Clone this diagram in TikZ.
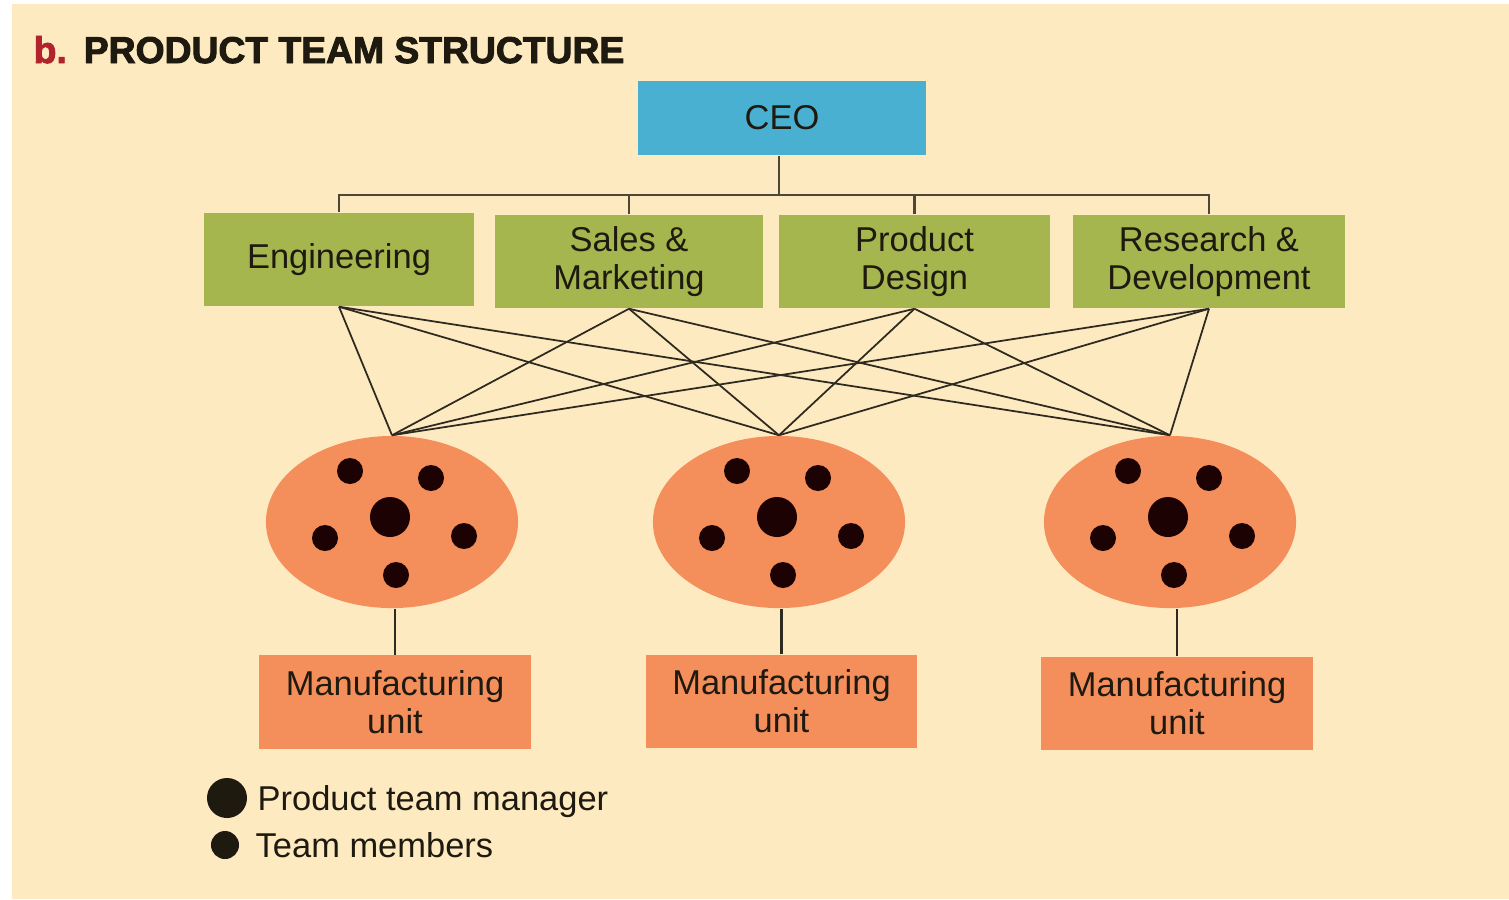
\documentclass[tikz,border=0pt]{standalone}
\usepackage{fontspec}
\setmainfont{Liberation Sans}
\newfontfamily\headfont{Liberation Sans}[BoldFeatures={FakeBold=2.5}]
\usetikzlibrary{shapes.geometric}
\definecolor{cream}{HTML}{FEEAC1}
\definecolor{sky}{HTML}{4AB0D1}
\definecolor{leaf}{HTML}{A6B64F}
\definecolor{salmon}{HTML}{F48F5C}
\definecolor{ink}{HTML}{1E1A10}
\definecolor{plum}{HTML}{1C0202}
\definecolor{brick}{HTML}{B2232E}
\definecolor{cord}{HTML}{2E2A20}
\newcommand{\crew}[3]{\node[team] (#1) at (#2,#3) {};\fill[plum] (#2-2,#3-5) circle (0.2cm);
\foreach \dx/\dy in {-42/-51,39/-44,-67/16,72/14,4/53} \fill[plum] (#2+\dx,#3+\dy) circle (0.13cm);}

\begin{document}
\begin{tikzpicture}[x=0.01cm,y=-0.01cm,
box/.style={rectangle,inner sep=0pt,align=center,text=ink,font=\fontsize{9.8}{10.8}\selectfont},
dept/.style={box,fill=leaf,minimum width=2.70cm,minimum height=0.93cm},
unit/.style={box,fill=salmon,minimum width=2.72cm,minimum height=0.93cm},
team/.style={ellipse,fill=salmon,minimum width=2.52cm,minimum height=1.72cm,inner sep=0pt},
tree/.style={draw=cord!85!cream,line width=0.6pt},
link/.style={draw=cord,line width=0.5pt}]
\useasboundingbox (0,0) rectangle (1509,899);\fill[cream] (12,4) rectangle (1509,899);
\node[anchor=base west,inner sep=0pt,text=ink,font=\headfont\bfseries\fontsize{10.6}{12}\selectfont] (title) at (33,63) {\textcolor{brick}{b.}\hspace{0.17cm}PRODUCT TEAM STRUCTURE};
\node[box,fill=sky,minimum width=2.88cm,minimum height=0.74cm] (ceo) at (782,118) {CEO};
\node[dept] (eng) at (339,259.5) {Engineering};
\node[dept,minimum width=2.68cm] (sales) at (629,261.5) {Sales \&\\Marketing};
\node[dept,minimum width=2.71cm] (design) at (914.5,261.5) {Product\\Design};
\node[dept,minimum width=2.72cm] (rnd) at (1209,261.5) {Research \&\\Development};
\coordinate (bus) at (779,195);
\draw[tree] (eng.north) |- (bus) -| (rnd.north);
\draw[tree] (sales.north) -- (sales.north |- bus) (design.north) -- (design.north |- bus) (bus) -- (bus |- ceo.south);
\crew{t1}{392}{522}\crew{t2}{779}{522}\crew{t3}{1170}{522}
\foreach \d in {eng,sales,design,rnd}{\foreach \t in {t1,t2,t3}{\draw[link] (\d.south) -- (\t.north);}}
\node[unit] (u1) at (395,702) {Manufacturing\\unit};
\node[unit,minimum width=2.71cm] (u2) at (781.5,701.5) {Manufacturing\\unit};
\node[unit] (u3) at (1177,703.5) {Manufacturing\\unit};
\foreach \t/\u in {t1/u1,t2/u2,t3/u3} \draw[link,line width=0.6pt] (\u.north) -- (\u.north |- \t.south);
\fill[ink] (227,798) circle (0.2cm);\fill[ink] (225,845) circle (0.14cm);
\node[box,anchor=base west] (mgr) at (257,810) {Product team manager};
\node[box,anchor=base west] (mem) at (255,857) {Team members};
\end{tikzpicture}
\end{document}
